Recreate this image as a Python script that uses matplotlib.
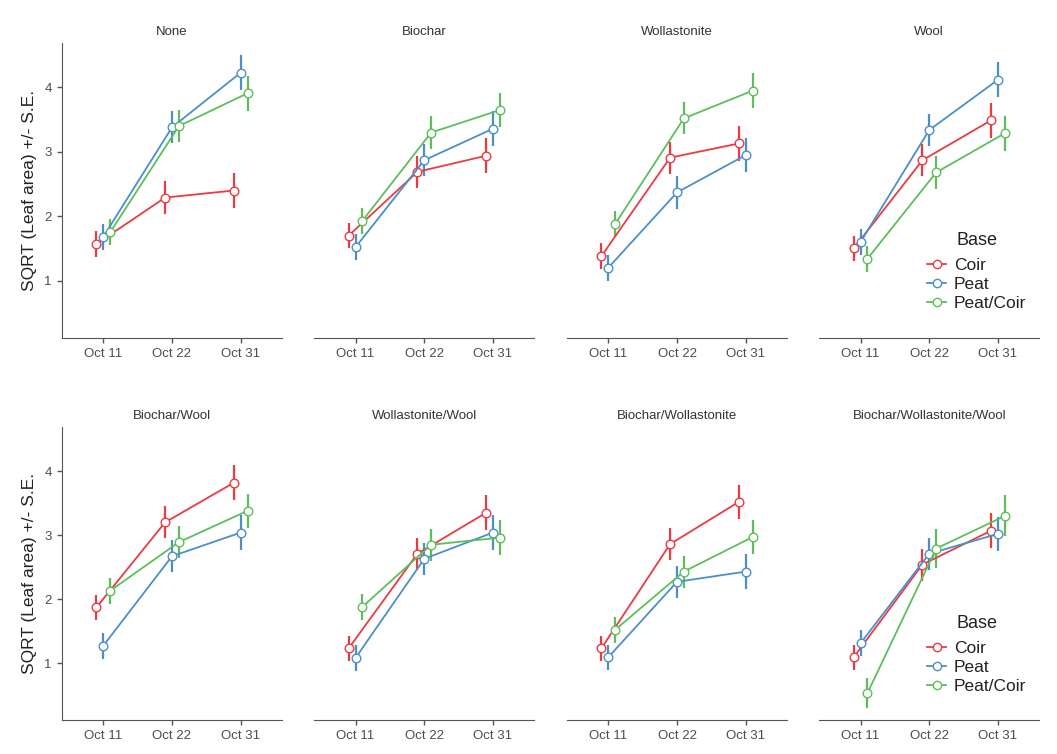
import numpy as np
import matplotlib
matplotlib.use('Agg')
import matplotlib.pyplot as plt
from matplotlib.lines import Line2D

plt.rcParams['font.family'] = ['Liberation Sans', 'DejaVu Sans']

# data
dates = ['Oct 11', 'Oct 22', 'Oct 31']
bases = ['Coir', 'Peat', 'Peat/Coir']
colors = ['#EC3A42', '#4B8FCA', '#5DBE5B']

panels = ['None', 'Biochar', 'Wollastonite', 'Wool',
          'Biochar/Wool', 'Wollastonite/Wool', 'Biochar/Wollastonite',
          'Biochar/Wollastonite/Wool']

# mean values: one row per panel, per base [Oct 11, Oct 22, Oct 31]
coir = [[1.57, 2.29, 2.40],
        [1.70, 2.69, 2.94],
        [1.38, 2.91, 3.13],
        [1.50, 2.87, 3.49],
        [1.87, 3.20, 3.82],
        [1.23, 2.71, 3.35],
        [1.23, 2.86, 3.52],
        [1.09, 2.54, 3.07]]
peat = [[1.68, 3.38, 4.23],
        [1.52, 2.87, 3.36],
        [1.20, 2.37, 2.95],
        [1.60, 3.34, 4.12],
        [1.27, 2.67, 3.04],
        [1.08, 2.63, 3.04],
        [1.09, 2.27, 2.43],
        [1.31, 2.71, 3.02]]
peat_coir = [[1.75, 3.40, 3.91],
             [1.93, 3.30, 3.65],
             [1.88, 3.52, 3.95],
             [1.34, 2.68, 3.29],
             [2.13, 2.89, 3.38],
             [1.88, 2.85, 2.96],
             [1.52, 2.43, 2.97],
             [0.53, 2.79, 3.30]]

# standard errors
se_std = [0.20, 0.25, 0.27]
se_pc_last = [0.24, 0.30, 0.32]

means = [coir, peat, peat_coir]

W, H = 1057, 754
fig = plt.figure(figsize=(W / 100, H / 100), dpi=100)

lefts = [62, 314.3, 567, 819.3]
rows = [(43, 338), (427, 720)]
axw = 220
ylim = (0.11, 4.69)
offsets = [-0.1, 0.0, 0.1]
x = np.arange(1, 4)

spine_col = '#555555'
text_col = '#4D4D4D'

for p, name in enumerate(panels):
    r, c = divmod(p, 4)
    top, bot = rows[r]
    ax = fig.add_axes([lefts[c] / W, (H - bot) / H, axw / W, (bot - top) / H])
    for b in range(3):
        y = np.array(means[b][p])
        se = se_pc_last if (p == 7 and b == 2) else se_std
        ax.errorbar(x + offsets[b], y, yerr=se, color=colors[b], lw=1.3,
                    elinewidth=1.6, capsize=0, marker='o', ms=6.2,
                    mfc='white', mec=colors[b], mew=1.0, label=bases[b])
    ax.set_xlim(0.4, 3.6)
    ax.set_ylim(*ylim)
    ax.set_xticks(x)
    ax.set_xticklabels(dates)
    ax.set_title(name, fontsize=9.5, color='#333333', pad=6)
    for s in ['top', 'right']:
        ax.spines[s].set_visible(False)
    ax.spines['bottom'].set_color(spine_col)
    ax.spines['left'].set_color(spine_col)
    ax.tick_params(axis='x', colors=spine_col, labelcolor=text_col,
                   labelsize=9.5, length=3.5, width=1, pad=4)
    if c == 0:
        ax.set_yticks([1, 2, 3, 4])
        ax.tick_params(axis='y', colors=spine_col, labelcolor=text_col,
                       labelsize=9.5, length=3.5, width=1, pad=4)
        ax.set_ylabel('SQRT (Leaf area) +/- S.E.', fontsize=12.5,
                      color='#222222', labelpad=5)
    else:
        ax.spines['left'].set_visible(False)
        ax.set_yticks([])
    if c == 3:
        handles = [Line2D([], [], color=colors[b], lw=1.3, marker='o', ms=6,
                          mfc='white', mec=colors[b]) for b in range(3)]
        leg = ax.legend(handles, bases, title='Base', loc='upper left',
                        bbox_to_anchor=(0.49, 0.36), frameon=False,
                        fontsize=12.5, title_fontsize=13, borderpad=0,
                        borderaxespad=0, handlelength=1.1, handletextpad=0.45,
                        labelspacing=0.22)
        # extra gap between the title and the entries
        leg._legend_box.sep = 6.5
        for t in leg.get_texts():
            t.set_color('#222222')
        leg.get_title().set_color('#222222')

fig.savefig('out.png', dpi=100)
